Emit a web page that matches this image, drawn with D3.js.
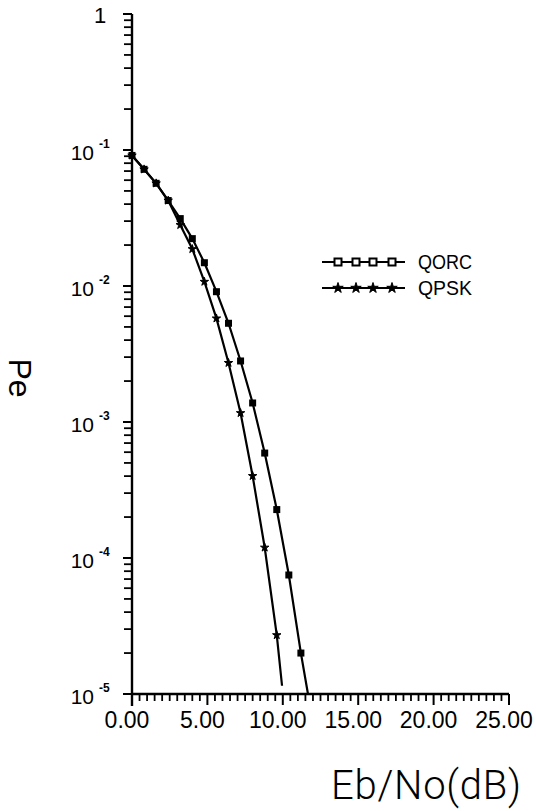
<!DOCTYPE html>
<html>
<head>
<meta charset="utf-8">
<script src="https://cdn.jsdelivr.net/npm/d3@7"></script>
<style>
  html, body { margin: 0; padding: 0; background: #fff; }
  svg { display: block; }
  text { font-family: "Liberation Sans", Arial, sans-serif; fill: #000; }
</style>
</head>
<body>
<svg id="chart" width="536" height="811"></svg>
<script>
// ---- data ----
// last entry of each series is where the drawn curve ends (no marker there)
const qorcX  = [0, 0.8, 1.6, 2.4, 3.2, 4.0, 4.8, 5.6, 6.4, 7.2, 8.0, 8.8, 9.6, 10.4, 11.2, 11.67];
const qorcPe = [0.0912, 0.0721, 0.0569, 0.0425, 0.0313, 0.0223, 0.01483, 0.00908, 0.00532,
                0.00281, 0.00138, 0.000591, 0.000227, 0.000075, 0.00002, 0.00001];
const qpskX  = [0, 0.8, 1.6, 2.4, 3.2, 4.0, 4.8, 5.6, 6.4, 7.2, 8.0, 8.8, 9.6, 9.95];
const qpskPe = [0.0912, 0.0721, 0.0569, 0.0425, 0.0281, 0.0187, 0.01075, 0.00578, 0.00272,
                0.001164, 0.000401, 0.0001194, 0.0000271, 0.0000115];
const seriesNames = ["QORC", "QPSK"];
const xMajorTicks = [0, 5, 10, 15, 20, 25];
const xTickLabels = ["0.00", "5.00", "10.00", "15.00", "20.00", "25.00"];
const yDecades = [1, 1e-1, 1e-2, 1e-3, 1e-4, 1e-5];
const yDecadeExp = ["", "-1", "-2", "-3", "-4", "-5"];
const xTitle = "Eb/No(dB)";
const yTitle = "Pe";

// ---- layout ----
const svg = d3.select("#chart");
const x = d3.scaleLinear().domain([0, 25]).range([132, 509]);
const y = d3.scaleLog().domain([1e-5, 1]).range([694, 14]);

const xMinor = d3.range(0, 25.001, 0.5).filter(v => Math.abs(v % 5) > 1e-6);
const yMinor = [];
yDecades.slice(1).forEach(d => { for (let k = 2; k <= 9; k++) yMinor.push(d * k); });

const axisG = svg.append("g").attr("stroke", "#000");
// axis lines
axisG.append("line").attr("x1", x(0)).attr("x2", x(25)).attr("y1", y(1e-5)).attr("y2", y(1e-5))
  .attr("stroke-width", 2.4);
axisG.append("line").attr("x1", x(0)).attr("x2", x(0)).attr("y1", y(1)).attr("y2", y(1e-5) + 12)
  .attr("stroke-width", 2.4);
// x ticks (downward)
axisG.append("g").selectAll("line").data(xMinor).join("line")
  .attr("x1", d => x(d)).attr("x2", d => x(d))
  .attr("y1", y(1e-5)).attr("y2", y(1e-5) + 7).attr("stroke-width", 1.8);
axisG.append("g").selectAll("line").data(xMajorTicks).join("line")
  .attr("x1", d => x(d)).attr("x2", d => x(d))
  .attr("y1", y(1e-5)).attr("y2", y(1e-5) + 11).attr("stroke-width", 2);
// y ticks (leftward)
axisG.append("g").selectAll("line").data(yMinor).join("line")
  .attr("x1", x(0) - 8).attr("x2", x(0))
  .attr("y1", d => y(d)).attr("y2", d => y(d)).attr("stroke-width", 1.8);
axisG.append("g").selectAll("line").data(yDecades).join("line")
  .attr("x1", x(0) - 9).attr("x2", x(0))
  .attr("y1", d => y(d)).attr("y2", d => y(d)).attr("stroke-width", 2);

// x labels
svg.append("g").selectAll("text").data(xMajorTicks).join("text")
  .attr("x", d => x(d) - 5).attr("y", y(1e-5) + 34)
  .attr("text-anchor", "middle").style("font-size", "23px")
  .text((d, i) => xTickLabels[i]);

// y labels
yDecades.forEach((d, i) => {
  const ty = y(d);
  if (yDecadeExp[i] === "") {
    svg.append("text").attr("x", 100).attr("y", ty + 9)
      .attr("text-anchor", "middle").style("font-size", "22px").text("1");
  } else {
    svg.append("text").attr("x", 94).attr("y", ty + 10)
      .attr("text-anchor", "end").style("font-size", "21px").text("10");
    svg.append("text").attr("x", 99).attr("y", ty - 2)
      .style("font-size", "12px").style("font-weight", "bold").text(yDecadeExp[i]);
  }
});

// titles
svg.append("text")
  .attr("transform", `translate(9,378) rotate(90)`)
  .attr("text-anchor", "middle")
  .style("font-size", "32px")
  .text(yTitle);
svg.append("text")
  .attr("x", 331).attr("y", 799)
  .attr("textLength", 190).attr("lengthAdjust", "spacing")
  .style("font-family", "Roboto, 'Liberation Sans', sans-serif")
  .style("font-weight", "300")
  .style("font-size", "40px")
  .text(xTitle);

// curves
const line = d3.line().x(d => x(d[0])).y(d => y(d[1]));
const qorc = qorcX.map((v, i) => [v, qorcPe[i]]);
const qpsk = qpskX.map((v, i) => [v, qpskPe[i]]);

svg.append("path").datum(qpsk).attr("d", line)
  .attr("fill", "none").attr("stroke", "#000").attr("stroke-width", 2.2);
svg.append("path").datum(qorc).attr("d", line)
  .attr("fill", "none").attr("stroke", "#000").attr("stroke-width", 2.2);

const starSymPlot = d3.symbol().type(d3.symbolStar).size(22);
const starSymLeg = d3.symbol().type(d3.symbolStar).size(34);
function squareMark(g, cx, cy, s, fill) {
  g.append("rect").attr("x", cx - s / 2).attr("y", cy - s / 2)
    .attr("width", s).attr("height", s)
    .attr("fill", fill).attr("stroke", "#000").attr("stroke-width", 2);
}
function starMark(g, cx, cy, sym) {
  g.append("path").attr("d", sym()).attr("transform", `translate(${cx},${cy})`)
    .attr("fill", "#000").attr("stroke", "#000").attr("stroke-width", 1);
}
const marks = svg.append("g");
qpsk.slice(0, -1).forEach(d => starMark(marks, x(d[0]), y(d[1]), starSymPlot));
qorc.slice(0, -1).forEach(d => squareMark(marks, x(d[0]), y(d[1]), 5, "#000"));

// legend
const legendRows = [{ name: seriesNames[0], ly: 262, type: "sq" }, { name: seriesNames[1], ly: 288, type: "star" }];
const legendMarkX = [338, 356, 373, 392];
const lg = svg.append("g");
legendRows.forEach(r => {
  lg.append("line").attr("x1", 322).attr("x2", 405).attr("y1", r.ly).attr("y2", r.ly)
    .attr("stroke", "#000").attr("stroke-width", 2);
  legendMarkX.forEach(mx => {
    if (r.type === "sq") squareMark(lg, mx, r.ly, 7, "#fff");
    else starMark(lg, mx, r.ly, starSymLeg);
  });
  lg.append("text").attr("x", 418).attr("y", r.ly + 7)
    .attr("textLength", 54).attr("lengthAdjust", "spacingAndGlyphs")
    .style("font-size", "21px").text(r.name);
});
</script>
</body>
</html>
